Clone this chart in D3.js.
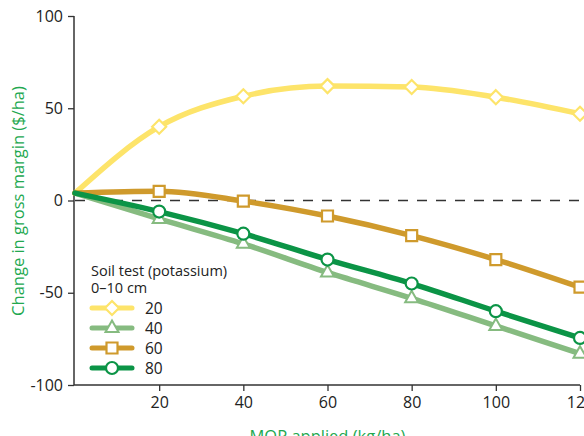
<!DOCTYPE html>
<html><head><meta charset="utf-8">
<script src="https://cdn.jsdelivr.net/npm/d3@7"></script>
<style>body{margin:0;background:#fff;overflow:hidden}svg{display:block;font-family:"Open Sans",sans-serif}</style>
</head><body>
<svg id="c" width="584" height="436"></svg>
<script>
const mop = [0, 20, 40, 60, 80, 100, 120];
const seriesNames = ["20", "40", "60", "80"];
const k20 = [4, 40, 56.5, 62, 61.5, 56, 47];
const k40 = [4, -10, -23.5, -39, -53, -68, -83];
const k60 = [4, 5, -0.3, -8.4, -19, -32, -47];
const k80 = [4, -6, -18, -32, -45, -60, -74.5];
const xTicks = [20, 40, 60, 80, 100, 120];
const yTicks = [-100, -50, 0, 50, 100];
const legendTitle = ["Soil test (potassium)", "0\u201310 cm"];
const xTitle = "MOP applied (kg/ha)";
const yTitle = "Change in gross margin ($/ha)";

const colors = ["#fde46a", "#86bb80", "#cf9a2c", "#0b9446"];
const shapes = ["diamond", "triangle", "square", "circle"];
const series = [k20, k40, k60, k80].map((v, i) => ({name: seriesNames[i], values: v, color: colors[i], shape: shapes[i]}));

const svg = d3.select("#c");
const x = d3.scaleLinear().domain([0, 120]).range([75, 580]);
const y = d3.scaleLinear().domain([-100, 100]).range([385, 16]);
const green = "#22a84f";

// axes
const yAx = svg.append("g").attr("transform", "translate(74,0)")
  .call(d3.axisLeft(y).tickValues(yTicks).tickSize(6).tickPadding(5).tickFormat(d => String(d)));
const xAx = svg.append("g").attr("transform", "translate(0,385)")
  .call(d3.axisBottom(x).tickValues(xTicks).tickSize(6).tickPadding(6).tickFormat(d => String(d)));
[yAx, xAx].forEach(g => {
  g.select(".domain").attr("stroke", "#333").attr("stroke-width", 1.5);
  g.selectAll(".tick line").attr("stroke", "#333").attr("stroke-width", 1.3);
  g.selectAll(".tick text").attr("fill", "#222").style("font-size", "16px").style("font-family", "'Open Sans',sans-serif");
});
yAx.select(".domain").attr("d", "M0,16V385");
xAx.select(".domain").attr("d", "M74,0H580");

// zero line
svg.append("line").attr("x1", x(0)).attr("x2", 584).attr("y1", y(0)).attr("y2", y(0))
  .attr("stroke", "#333").attr("stroke-width", 1.4).attr("stroke-dasharray", "10,9");

const line = d3.line().x((d, i) => x(mop[i])).y(d => y(d)).curve(d3.curveMonotoneX);

function marker(g, shape, color, cx, cy) {
  let p;
  if (shape === "diamond") {
    p = g.append("path").attr("d", "M0,-7L7,0L0,7L-7,0Z");
  } else if (shape === "triangle") {
    p = g.append("path").attr("d", "M0,-6.5L6.5,5L-6.5,5Z").attr("transform", `translate(${cx},${cy-1})`);
    p.attr("fill", "#fff").attr("stroke", color).attr("stroke-width", 2);
    return;
  } else if (shape === "square") {
    p = g.append("path").attr("d", "M-5.5,-5.5H5.5V5.5H-5.5Z");
  } else {
    p = g.append("circle").attr("r", 6);
  }
  p.attr("transform", `translate(${cx},${cy})`).attr("fill", "#fff").attr("stroke", color).attr("stroke-width", 2.2);
}

series.forEach(s => {
  svg.append("path").attr("d", line(s.values)).attr("fill", "none")
    .attr("stroke", s.color).attr("stroke-width", 5.5).attr("stroke-linecap", "round");
});
series.forEach(s => {
  const g = svg.append("g");
  s.values.forEach((v, i) => { if (i > 0) marker(g, s.shape, s.color, x(mop[i]), y(v)); });
});

// legend
const lg = svg.append("g");
lg.append("text").attr("x", 91).attr("y", 276).text(legendTitle[0]).attr("fill", "#222").style("font-size", "14.5px");
lg.append("text").attr("x", 91).attr("y", 293).text(legendTitle[1]).attr("fill", "#222").style("font-size", "14.5px");
series.forEach((s, i) => {
  const yy = 308 + i * 20;
  lg.append("line").attr("x1", 92).attr("x2", 132).attr("y1", yy).attr("y2", yy)
    .attr("stroke", s.color).attr("stroke-width", 5).attr("stroke-linecap", "round");
  marker(lg, s.shape, s.color, 112, yy);
  lg.append("text").attr("x", 145).attr("y", yy + 5.5).text(s.name).attr("fill", "#222").style("font-size", "15.5px");
});

// titles
svg.append("text").attr("transform", "translate(24,201) rotate(-90)").attr("text-anchor", "middle")
  .attr("fill", green).style("font-size", "16.5px").text(yTitle);
svg.append("text").attr("x", x(60)).attr("y", 442).attr("text-anchor", "middle")
  .attr("fill", green).style("font-size", "16.5px").text(xTitle);
</script>
</body></html>
